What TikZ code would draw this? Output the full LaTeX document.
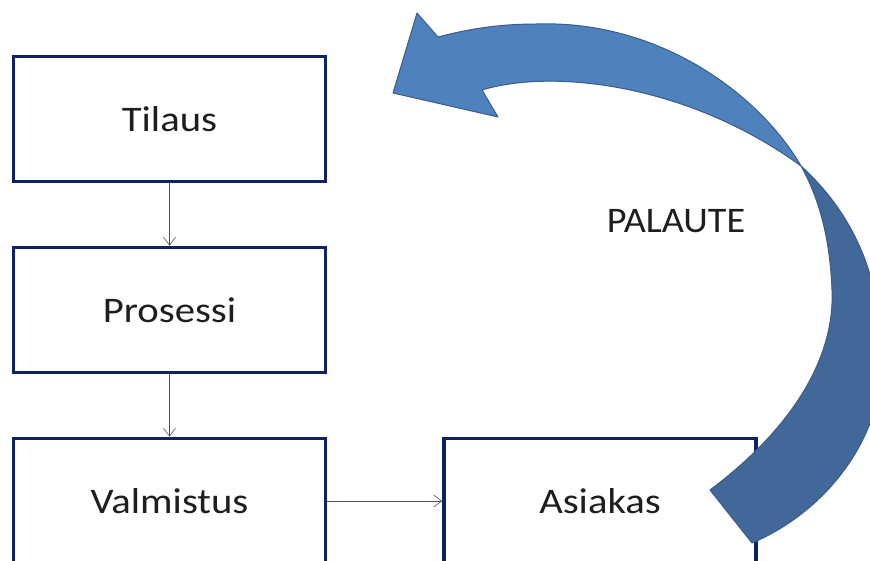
\documentclass[tikz,border=0pt]{standalone}
\usepackage{fontspec}
\setmainfont{Carlito}
\newfontfamily\labelfont{Carlito}[FakeStretch=1.13]
\newfontfamily\notefont{Carlito}[FakeStretch=1.06]
\usetikzlibrary{arrows.meta}

\definecolor{boxline}{RGB}{16,34,102}
\definecolor{labeltext}{RGB}{30,30,30}
\definecolor{conncol}{RGB}{80,80,80}
\definecolor{arrowfront}{RGB}{79,129,189}
\definecolor{arrowback}{RGB}{66,104,154}
\definecolor{arrowedge}{RGB}{56,93,138}

\tikzset{
  stepbox/.style={draw=boxline, line width=3.6pt, fill=white,
    minimum width=312pt, minimum height=125pt, inner sep=0pt,
    text=labeltext, font=\labelfont\fontsize{36}{40}\selectfont},
  conn/.style={draw=conncol, line width=0.7pt,
    -{Straight Barb[length=8pt,width=12pt,line width=0.6pt]}},
  notetext/.style={text=labeltext, font=\notefont\fontsize{36}{40}\selectfont},
  bandfront/.style={fill=arrowfront, draw=arrowedge, line width=1pt, line join=round},
  bandback/.style={fill=arrowback, draw=arrowedge, line width=1pt, line join=round}
}

\begin{document}
\begin{tikzpicture}[x=1pt,y=-1pt]
\useasboundingbox (0,0) rectangle (870,561);
\clip (0,0) rectangle (870,561);

% process boxes
\node[stepbox] (tilaus)    at (169.5,119) {Tilaus};
\node[stepbox] (prosessi)  at (169.5,310) {Prosessi};
\node[stepbox] (valmistus) at (169.5,501) {Valmistus};
\node[stepbox] (asiakas)   at (600,501)   {Asiakas};

% flow connectors
\draw[conn] (tilaus) -- (prosessi);
\draw[conn] (prosessi) -- (valmistus);
\draw[conn] (valmistus) -- (asiakas);

% feedback label
\node[notetext] (palaute) at (676,221) {PALAUTE};

% feedback arrow: lower band (back face) from the tail up to the twist
\coordinate (twist) at (801,166);
\path[bandback] (twist)
  .. controls (855,215) and (882,280) .. (882,360)
  .. controls (882,440) and (825,512) .. (752,543)
  -- (710,490)
  .. controls (790,430) and (835,360) .. (832,290)
  .. controls (830,240) and (820,200) .. (twist) -- cycle;

% upper band (front face) from the twist to the head
\path[bandfront] (twist)
  .. controls (760,95) and (660,20) .. (537,24)
  .. controls (495,24) and (465,30) .. (438,37)
  -- (417,13) -- (393,93) -- (498,117) -- (482,90)
  .. controls (555,68) and (690,85) .. (twist) -- cycle;
\end{tikzpicture}
\end{document}
